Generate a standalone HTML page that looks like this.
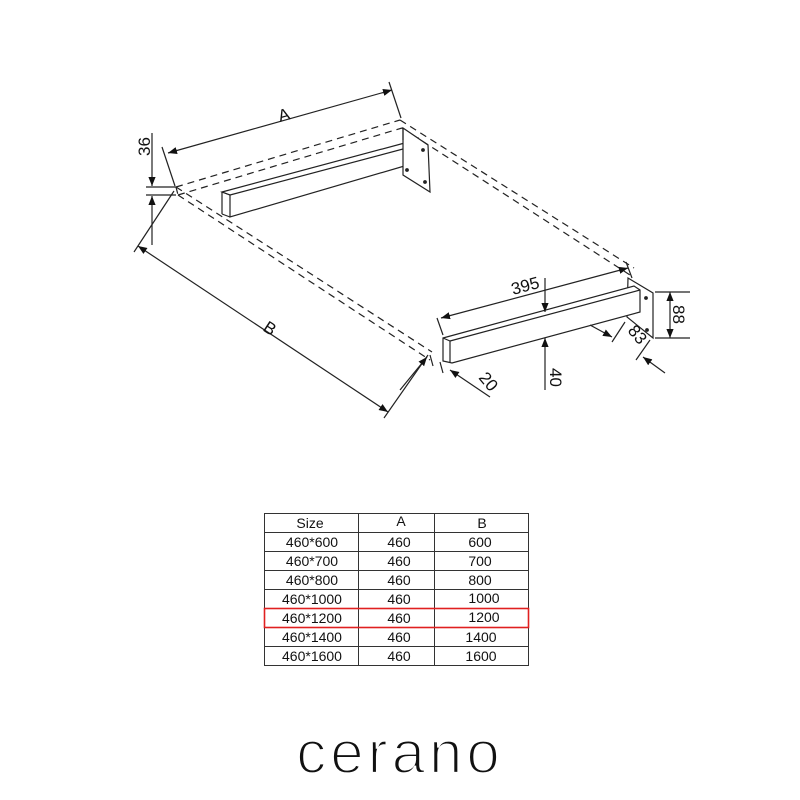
<!DOCTYPE html>
<html><head><meta charset="utf-8"><style>
body{margin:0;background:#fff;}
svg{display:block}
text{font-family:"Liberation Sans",sans-serif;fill:#111}
</style></head><body>
<svg width="800" height="800" viewBox="0 0 800 800" xmlns="http://www.w3.org/2000/svg">
<defs>
<marker id="ar" viewBox="0 0 10 10" refX="10" refY="5" markerWidth="9" markerHeight="9" orient="auto-start-reverse" markerUnits="userSpaceOnUse"><path d="M0,1 L10,5 L0,9 z" fill="#111"/></marker>
</defs>
<g stroke="#222" stroke-width="1.2" fill="none">
<g stroke-dasharray="7,5">
<line x1="176" y1="187" x2="400" y2="120"/>
<line x1="178" y1="195" x2="402" y2="128"/>
<line x1="400" y1="120" x2="634" y2="268"/>
<line x1="402" y1="128" x2="630" y2="275"/>
<line x1="176" y1="187" x2="432" y2="352"/>
<line x1="178" y1="195" x2="430" y2="360"/>
<line x1="176" y1="187" x2="178" y2="195"/>
<line x1="448" y1="345" x2="640" y2="293"/>
<line x1="448" y1="352" x2="640" y2="300"/>
</g>
<polygon points="222,192 412,141 418,138 418,162 230,217 230,195" fill="#fff"/>
<line x1="222" y1="192" x2="222" y2="214"/>
<line x1="222" y1="214" x2="230" y2="217"/>
<line x1="222" y1="192" x2="230" y2="195"/>
<line x1="230" y1="195" x2="418" y2="145"/>
<polygon points="403,128 428,145 430,192 403,175" fill="#fff"/>
<line x1="403" y1="128" x2="403" y2="140"/>
<circle cx="423" cy="150" r="1.3" fill="#222"/><circle cx="425" cy="182" r="1.3" fill="#222"/><circle cx="407" cy="170" r="1.3" fill="#222"/>
<polygon points="628,278 653,293 653,338 627,317" fill="#fff"/>
<circle cx="646" cy="298" r="1.3" fill="#222"/><circle cx="647" cy="330" r="1.3" fill="#222"/><circle cx="628" cy="312" r="1.3" fill="#222"/>
<polygon points="443,338 634,286 640,290 640,312 452,363 443,361" fill="#fff"/>
<line x1="443" y1="338" x2="450" y2="341"/>
<line x1="450" y1="341" x2="640" y2="290"/>
<line x1="450" y1="341" x2="450" y2="363"/>
<line x1="168" y1="153" x2="392" y2="90" marker-start="url(#ar)" marker-end="url(#ar)"/>
<line x1="162" y1="147" x2="175" y2="186"/>
<line x1="389" y1="82" x2="401" y2="118"/>
<line x1="152" y1="133" x2="152" y2="186" marker-end="url(#ar)"/>
<line x1="152" y1="245" x2="152" y2="196" marker-end="url(#ar)"/>
<line x1="146" y1="187" x2="176" y2="187"/>
<line x1="146" y1="195" x2="176" y2="195"/>
<line x1="138" y1="246" x2="388" y2="412" marker-start="url(#ar)" marker-end="url(#ar)"/>
<line x1="134" y1="252" x2="174" y2="191"/>
<line x1="384" y1="418" x2="428" y2="355"/>
<line x1="441" y1="318" x2="628" y2="268" marker-start="url(#ar)" marker-end="url(#ar)"/>
<line x1="437" y1="318" x2="443" y2="335"/>
<line x1="626" y1="262" x2="632" y2="278"/>
<line x1="545" y1="278" x2="545" y2="312" marker-end="url(#ar)"/>
<line x1="545" y1="390" x2="545" y2="338" marker-end="url(#ar)"/>
<line x1="490" y1="397" x2="450" y2="370" marker-end="url(#ar)"/>
<line x1="400" y1="390" x2="427" y2="357" marker-end="url(#ar)"/>
<line x1="440" y1="362" x2="443" y2="373"/>
<line x1="430" y1="355" x2="433" y2="366"/>
<line x1="590" y1="325" x2="612" y2="337" marker-end="url(#ar)"/>
<line x1="665" y1="373" x2="643" y2="357" marker-end="url(#ar)"/>
<line x1="612" y1="342" x2="625" y2="322"/>
<line x1="636" y1="360" x2="650" y2="340"/>
<line x1="655" y1="292" x2="690" y2="292"/>
<line x1="655" y1="338" x2="690" y2="338"/>
<line x1="670" y1="292" x2="670" y2="338" marker-start="url(#ar)" marker-end="url(#ar)"/>
</g>
<text x="280" y="122" font-size="17" transform="rotate(-16 280 122)">A</text>
<text x="150" y="156" font-size="17" transform="rotate(-90 150 156)">36</text>
<text x="262" y="330" font-size="17" transform="rotate(33 262 330)">B</text>
<text x="513" y="295" font-size="17" transform="rotate(-15 513 295)">395</text>
<text x="550" y="368" font-size="17" transform="rotate(90 550 368)">40</text>
<text x="478" y="378" font-size="17" transform="rotate(50 478 378)">20</text>
<text x="627" y="331" font-size="17" transform="rotate(50 627 331)">83</text>
<text x="673" y="305" font-size="17" transform="rotate(90 673 305)">88</text>
<g stroke="#333" stroke-width="1" fill="none">
<rect x="264.5" y="513.5" width="264" height="152"/>
<line x1="358.5" y1="513" x2="358.5" y2="666"/>
<line x1="434.5" y1="513" x2="434.5" y2="666"/>
<line x1="264" y1="532.5" x2="528" y2="532.5"/>
<line x1="264" y1="551.5" x2="528" y2="551.5"/>
<line x1="264" y1="570.5" x2="528" y2="570.5"/>
<line x1="264" y1="589.5" x2="528" y2="589.5"/>
<line x1="264" y1="627.5" x2="528" y2="627.5"/>
<line x1="264" y1="646.5" x2="528" y2="646.5"/>
</g>
<rect x="264.5" y="608.5" width="264" height="19" fill="none" stroke="#e02020" stroke-width="1.6"/>
<g font-size="14" text-anchor="middle">
<text x="310" y="528">Size</text><text x="401" y="526">A</text><text x="482" y="528">B</text>
<text x="312" y="547">460*600</text><text x="399" y="547">460</text><text x="480" y="547">600</text>
<text x="312" y="566">460*700</text><text x="399" y="566">460</text><text x="480" y="566">700</text>
<text x="312" y="585">460*800</text><text x="399" y="585">460</text><text x="480" y="585">800</text>
<text x="312" y="604">460*1000</text><text x="399" y="604">460</text><text x="484" y="603">1000</text>
<text x="312" y="623">460*1200</text><text x="399" y="623">460</text><text x="484" y="622">1200</text>
<text x="312" y="642">460*1400</text><text x="399" y="642">460</text><text x="481" y="642">1400</text>
<text x="312" y="661">460*1600</text><text x="399" y="661">460</text><text x="481" y="661">1600</text>
</g>
<text x="400" y="773" font-size="60" text-anchor="middle" letter-spacing="4" style="fill:#111;stroke:#fff;stroke-width:2.2" paint-order="normal">cerano</text>
</svg>
</body></html>
